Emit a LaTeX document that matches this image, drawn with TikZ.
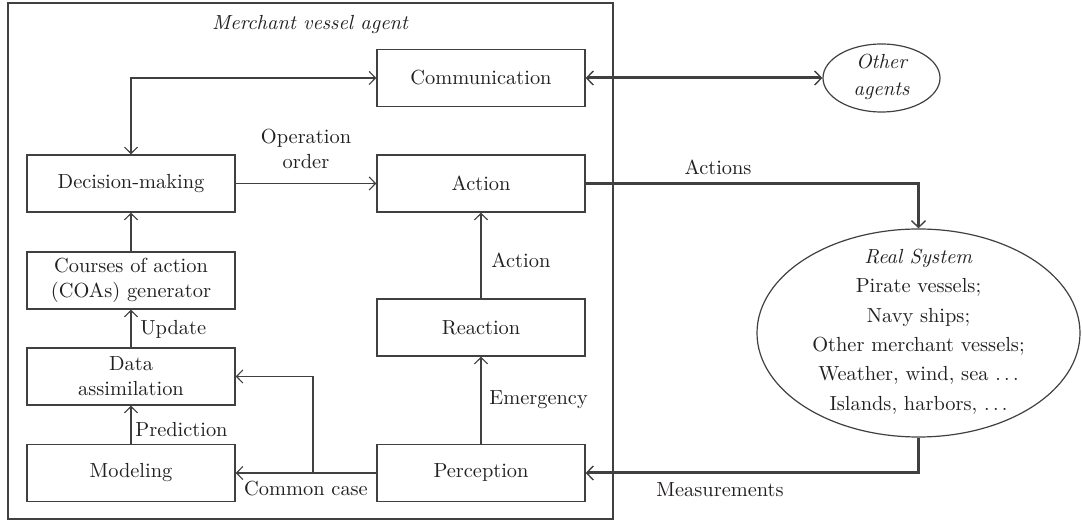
\documentclass[tikz,border=0pt]{standalone}
\usetikzlibrary{arrows.meta,shapes.geometric}
\definecolor{ln}{HTML}{404040}
\definecolor{tx}{HTML}{231F20}
\begin{document}
\begin{tikzpicture}[x=0.5pt,y=-0.5pt,
  font=\fontsize{10.2}{12.4}\selectfont, text=tx,
  box/.style={draw=ln,line width=0.6pt,minimum width=104pt,minimum height=28.5pt,inner sep=1pt,align=center},
  conn/.style={draw=ln,line width=0.6pt,-{Straight Barb[length=3.2pt,width=6.5pt]}},
  bconn/.style={draw=ln,line width=0.6pt,{Straight Barb[length=3.2pt,width=6.5pt]}-{Straight Barb[length=3.2pt,width=6.5pt]}},
  thk/.style={draw=ln,line width=1.5pt,-{Straight Barb[length=3.4pt,width=7pt,line width=0.7pt]}},
  bthk/.style={draw=ln,line width=1.5pt,{Straight Barb[length=3.4pt,width=7pt,line width=0.7pt]}-{Straight Barb[length=3.4pt,width=7pt,line width=0.7pt]}},
  lab/.style={inner sep=0pt,align=center}]
\useasboundingbox (0,0) rectangle (1082,523);
% outer agent frame
\node[draw=ln,line width=0.6pt,minimum width=302.5pt,minimum height=258pt,inner sep=0pt] (agent) at (310.5,261) {};
\node[lab,font=\fontsize{10.2}{12.4}\selectfont\itshape] (title) at (310,25) {Merchant vessel agent};
% boxes
\node[box] (comm) at (481,78) {Communication};
\node[box] (act) at (481,183.5) {Action};
\node[box] (dm) at (131,183.5) {Decision-making};
\node[box] (coa) at (131,280.5) {Courses of action\\(COAs) generator};
\node[box] (da) at (131,376.5) {Data\\assimilation};
\node[box] (mod) at (131,473) {Modeling};
\node[box] (rea) at (481,327.5) {Reaction};
\node[box] (per) at (481,473) {Perception};
% ellipses
\node[draw=ln,line width=0.6pt,ellipse,minimum width=58.5pt,minimum height=34pt,inner sep=0pt] (oth) at (881.5,78) {};
\node[lab,font=\fontsize{10.2}{13.5}\selectfont\itshape] (othtxt) at (881.5,77) {Other\\agents};
\node[draw=ln,line width=0.6pt,ellipse,minimum width=161.5pt,minimum height=104pt,inner sep=0pt] (rs) at (918.5,333) {};
\node[lab,font=\fontsize{10.2}{14.7}\selectfont] (rstxt) at (918.5,331.5) {\textit{Real System}\\Pirate vessels;\\Navy ships;\\Other merchant vessels;\\Weather, wind, sea~$\ldots$\\Islands, harbors,~$\ldots$};
% connectors
\draw[bconn] (dm.north) |- (comm.west);
\draw[conn] (dm.east) -- (act.west);
\draw[conn] (coa.north) -- (dm.south);
\draw[conn] (da.north) -- (coa.south);
\draw[conn] (mod.north) -- (da.south);
\draw[conn] (per.west) -- (mod.east);
\coordinate (br) at (313,473);
\draw[conn] (br) |- (da.east);
\draw[conn] (per.north) -- (rea.south);
\draw[conn] (rea.north) -- (act.south);
\draw[bthk] (comm.east) -- (oth.west);
\draw[thk] (act.east) -| (rs.north);
\draw[thk] (rs.south) |- (per.east);
% labels
\node[lab] (lop) at (306,149) {Operation\\order};
\node[lab,anchor=west] (lup) at (140,329) {Update};
\node[lab,anchor=west] (lpr) at (135,430) {Prediction};
\node[lab] (lcc) at (306,489) {Common case};
\node[lab,anchor=west] (lem) at (489,400) {Emergency};
\node[lab,anchor=west] (lac) at (491,260) {Action};
\node[lab] (lacs) at (718,167) {Actions};
\node[lab] (lme) at (720,490) {Measurements};
\end{tikzpicture}
\end{document}
